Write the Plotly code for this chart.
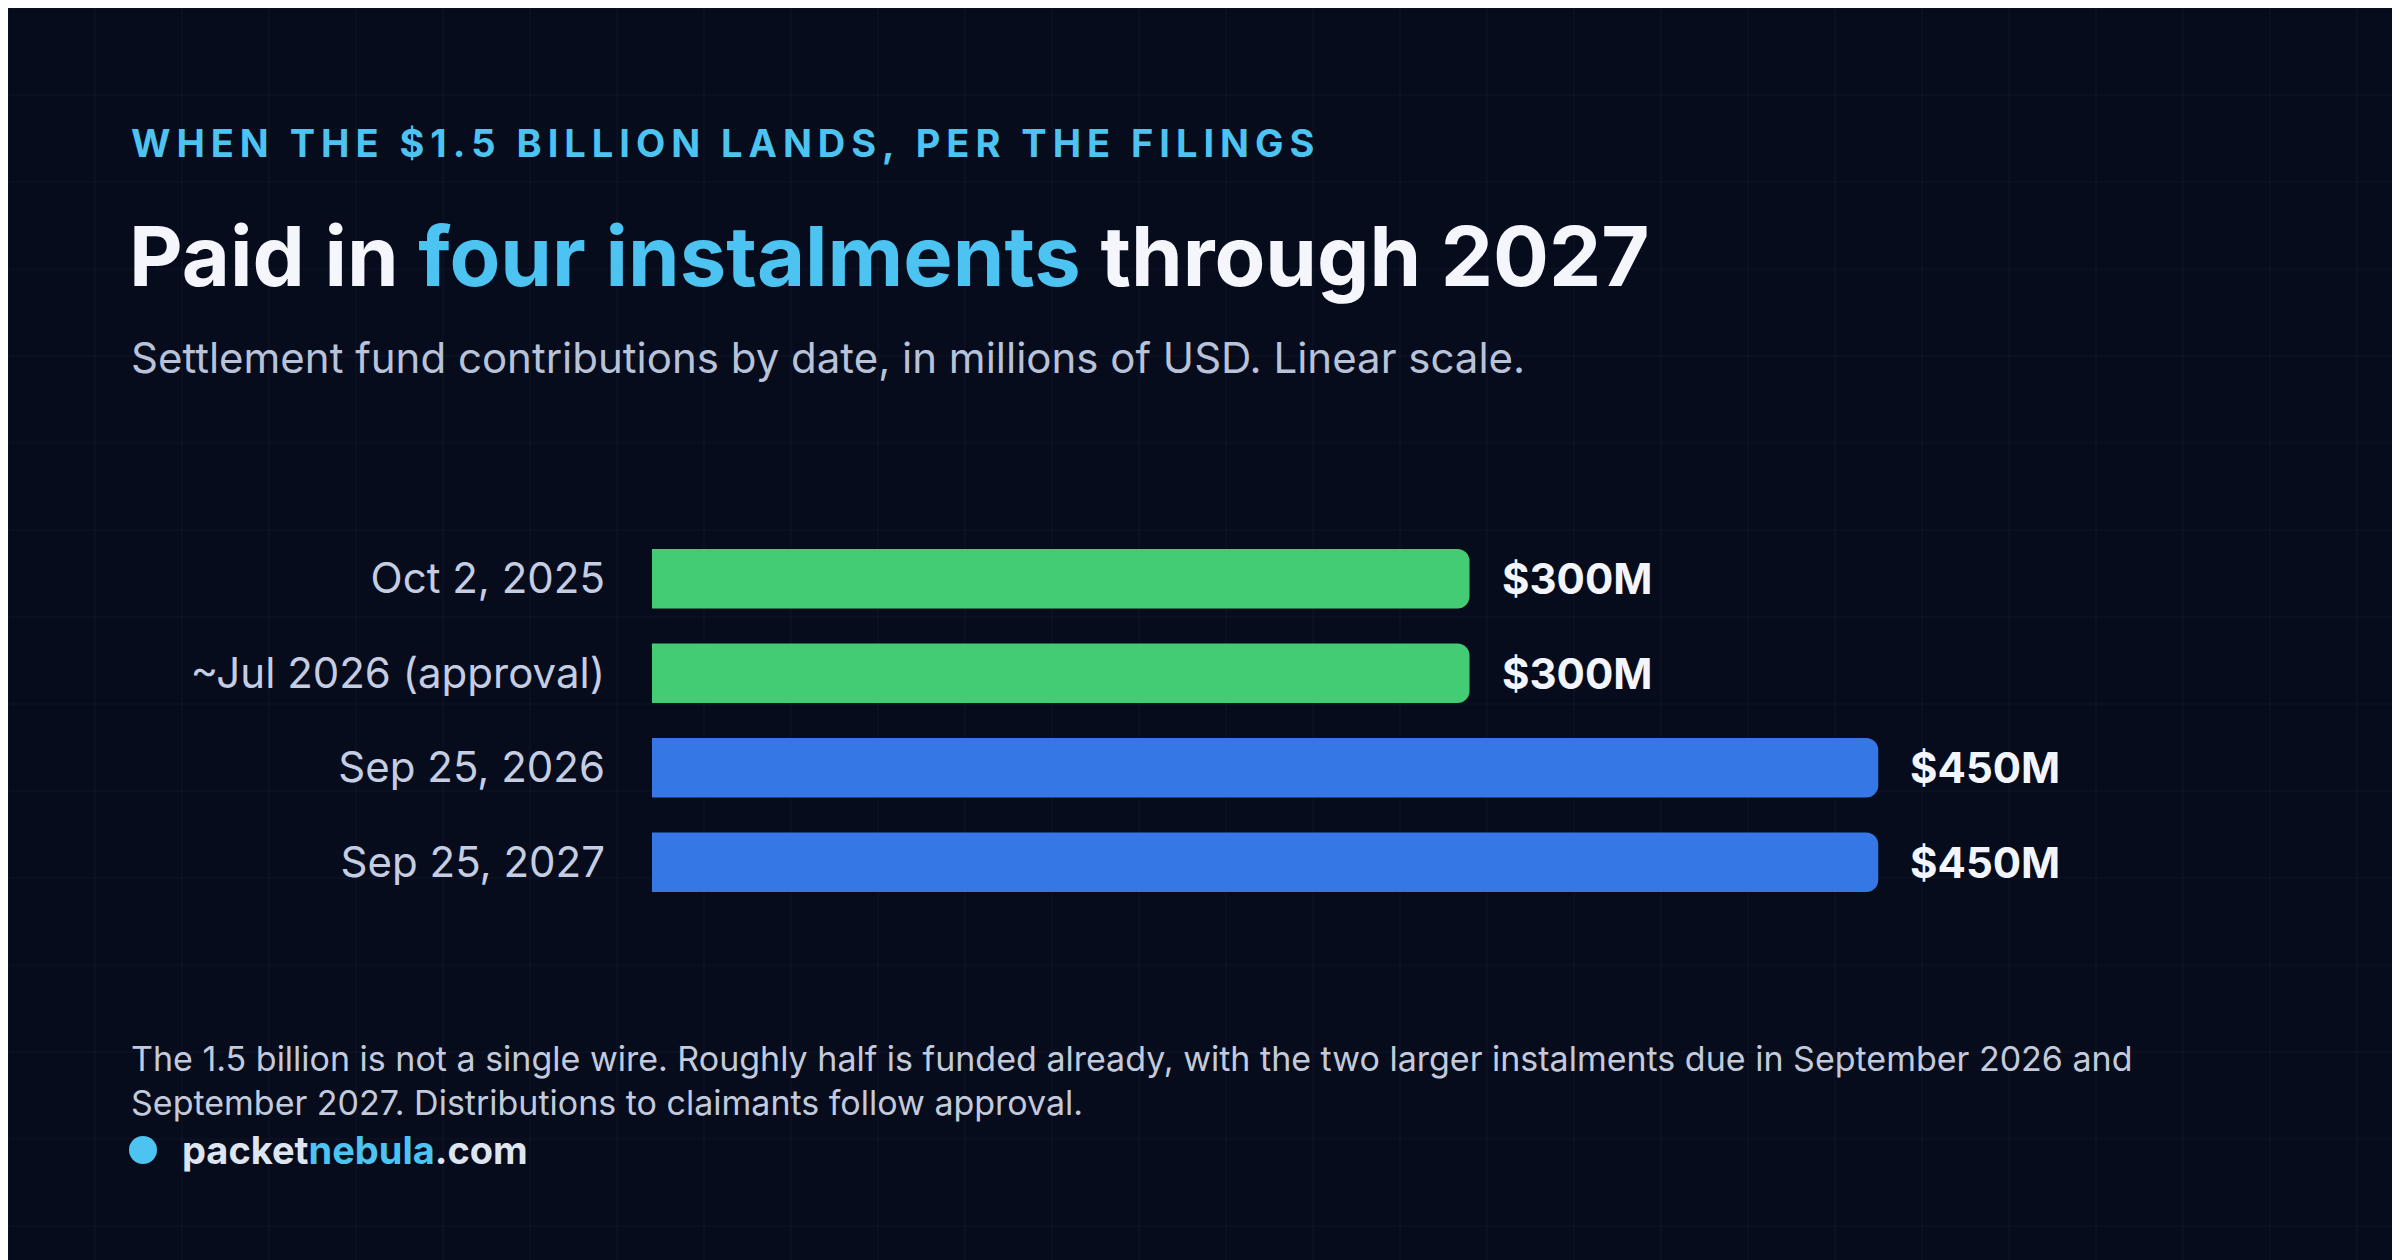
import plotly.graph_objects as go

# data
dates = ["Oct 2, 2025", "~Jul 2026 (approval)", "Sep 25, 2026", "Sep 25, 2027"]
amounts = [300, 300, 450, 450]
value_labels = ["$300M", "$300M", "$450M", "$450M"]
bar_colors = ["#44cc74", "#44cc74", "#3578e5", "#3578e5"]

W, H = 2400, 1260
FONT = "Inter"

fig = go.Figure()
fig.add_trace(go.Bar(
    y=dates, x=amounts, orientation="h",
    marker=dict(color=bar_colors, cornerradius=12, line=dict(width=0)),
    width=0.63, hoverinfo="skip",
))

# value labels just past each bar
for d, a, t in zip(dates, amounts, value_labels):
    fig.add_annotation(x=a, y=d, text="<b>" + t + "</b>", showarrow=False, xanchor="left",
                       xshift=30, font=dict(family=FONT, size=42, color="#f2f5fb"))

# faint background grid
shapes = []
step = 87
for i in range(0, W // step + 2):
    shapes.append(dict(type="line", xref="paper", yref="paper", x0=i * step / W, x1=i * step / W,
                       y0=0, y1=1, line=dict(color="rgba(120,150,200,0.07)", width=1), layer="below"))
for j in range(0, H // step + 2):
    shapes.append(dict(type="line", xref="paper", yref="paper", y0=1 - j * step / H, y1=1 - j * step / H,
                       x0=0, x1=1, line=dict(color="rgba(120,150,200,0.07)", width=1), layer="below"))

def sp(s):
    return "\u2009".join(s)

anns = [
    dict(x=121 / W, y=1 - 135 / H, text=sp("WHEN THE $1.5 BILLION LANDS, PER THE FILINGS"),
         font=dict(family=FONT, size=38, color="#4cc3f0", weight="bold")),
    dict(x=119 / W, y=1 - 248 / H,
         text="<b>Paid in <span style='color:#4cc3f0'>four instalments</span> through 2027</b>",
         font=dict(family=FONT, size=83, color="#f4f6fb")),
    dict(x=121 / W, y=1 - 349 / H, text="Settlement fund contributions by date, in millions of USD. Linear scale.",
         font=dict(family=FONT, size=42, color="#b8c2d8")),
    dict(x=121 / W, y=1 - 1072 / H,
         text="The 1.5 billion is not a single wire. Roughly half is funded already, with the two larger instalments due in September 2026 and<br>September 2027. Distributions to claimants follow approval.",
         font=dict(family=FONT, size=34, color="#c3cadb"), align="left"),
    dict(x=172 / W, y=1 - 1142 / H,
         text="<b>packet<span style='color:#4cc3f0'>nebula</span>.com</b>",
         font=dict(family=FONT, size=38, color="#dfe5f0")),
]
for a in anns:
    fig.add_annotation(xref="paper", yref="paper", xanchor="left", yanchor="middle", showarrow=False, **a)

shapes.append(dict(type="circle", xref="paper", yref="paper",
                   x0=121 / W, x1=149 / W, y0=1 - 1156 / H, y1=1 - 1128 / H,
                   fillcolor="#4cc3f0", line=dict(width=0)))

fig.update_layout(
    width=W, height=H, margin=dict(l=0, r=0, t=0, b=0),
    paper_bgcolor="#070c1c", plot_bgcolor="rgba(0,0,0,0)",
    showlegend=False, shapes=shapes, bargap=0.37,
    xaxis=dict(domain=[644 / W, 2300 / W], range=[0, 1656 / 2.725], visible=False),
    yaxis=dict(domain=[0.2845, 0.5845], autorange="reversed", showgrid=False, zeroline=False,
               showline=False, ticks="", ticklabelstandoff=46,
               tickfont=dict(family=FONT, size=42, color="#c5cde3")),
)

fig.write_html("out.html")
